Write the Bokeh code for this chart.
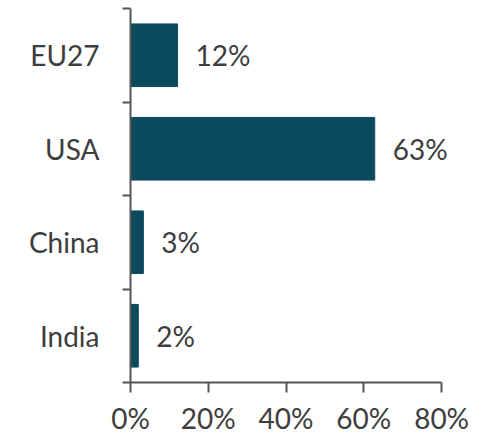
from bokeh.plotting import figure
from bokeh.models import ColumnDataSource, FixedTicker, LabelSet
from bokeh.core.properties import value
from bokeh.embed import file_html
from bokeh.resources import INLINE

categories = ["EU27", "USA", "China", "India"]
shares = [12.1, 62.8, 3.3, 2.0]
share_labels = ["12%", "63%", "3%", "2%"]
x_ticks = [0, 20, 40, 60, 80]
x_tick_labels = ["0%", "20%", "40%", "60%", "80%"]
x_axis_max = 80

n = len(categories)
ypos = [n - i - 0.5 for i in range(n)]

src = ColumnDataSource(dict(y=ypos, v=shares, lab=share_labels))

FONT = "Lato"
TXT = "#3d3d3d"
BAR = "#0b4a5e"
FS = "28px"

# frame extends past 80% so value labels are not clipped; axis bounded at 80
p = figure(width=486, height=434, x_range=(0, 90), y_range=(0, n),
           output_backend="svg", toolbar_location=None,
           min_border_left=130, min_border_right=6, min_border_top=8,
           min_border_bottom=52, frame_width=350, frame_height=374)
p.outline_line_color = None
p.grid.grid_line_color = None
p.background_fill_color = "white"

p.hbar(y="y", right="v", left=0, height=0.67, source=src,
       fill_color=BAR, line_color=BAR)
labels = LabelSet(x="v", y="y", text="lab", source=src, x_offset=18,
                  text_baseline="middle", text_align="left",
                  text_font=value(FONT), text_font_size=value(FS),
                  text_color=value(TXT))
p.add_layout(labels)

xa = p.xaxis[0]
xa.bounds = (0, x_axis_max)
xa.ticker = FixedTicker(ticks=x_ticks)
xa.major_label_overrides = {t: l for t, l in zip(x_ticks, x_tick_labels)}
xa.major_tick_in = 0
xa.major_tick_out = 10
xa.minor_tick_out = 0
xa.minor_tick_in = 0
xa.axis_line_color = "#555555"
xa.axis_line_width = 2
xa.major_tick_line_color = "#555555"
xa.major_tick_line_width = 2
xa.major_label_text_font = FONT
xa.major_label_text_font_size = FS
xa.major_label_text_color = TXT
xa.major_label_standoff = 8

ya = p.yaxis[0]
ya.ticker = FixedTicker(ticks=ypos, minor_ticks=list(range(n + 1)))
ya.major_label_overrides = {y: c for y, c in zip(ypos, categories)}
ya.major_tick_in = 0
ya.major_tick_out = 0
ya.minor_tick_in = 0
ya.minor_tick_out = 8
ya.minor_tick_line_color = "#555555"
ya.minor_tick_line_width = 2
ya.axis_line_color = "#555555"
ya.axis_line_width = 2
ya.major_label_text_font = FONT
ya.major_label_text_font_size = FS
ya.major_label_text_color = TXT
ya.major_label_standoff = 23

open("out.html", "w").write(file_html(p, INLINE))
